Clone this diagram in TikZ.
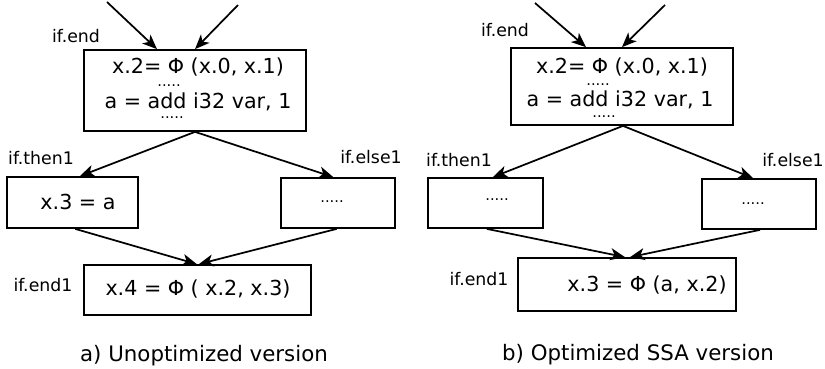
\documentclass[tikz,border=0pt]{standalone}
\usepackage{fontspec}
\setmainfont{DejaVu Sans}
\usetikzlibrary{arrows.meta}
\tikzset{
	box/.style={draw=black, line width=1.3pt, inner sep=0pt},
	code/.style={font=\fontsize{15.5}{18}\selectfont, inner sep=0pt},
	captxt/.style={font=\fontsize{16}{19}\selectfont, inner sep=0pt},
	lbl/.style={font=\fontsize{13}{15}\selectfont, inner sep=0pt},
	dots/.style={font=\fontsize{11}{12}\selectfont, inner sep=0pt},
	arr/.style={draw=black, line width=1.3pt, -{Stealth[length=11pt, width=9pt, inset=3pt]}}
}
\begin{document}
\begin{tikzpicture}[x=0.75pt, y=-0.75pt]
	\useasboundingbox (0,0) rectangle (825,368);
	% a) unoptimized
	\node[box, minimum width=166.5pt, minimum height=60.75pt] (topA) at (195,90.5) {};
	\node[box, minimum width=98.25pt, minimum height=38.25pt] (thenA) at (72.5,202.5) {};
	\node[box, minimum width=85.5pt, minimum height=37.5pt] (elseA) at (338,203) {};
	\node[box, minimum width=170.25pt, minimum height=37.5pt] (endA) at (197.5,290) {};
	\node[code] (phiA) at (198,67) {x.2= Φ (x.0, x.1)};
	\node[dots] (dotsA1) at (169,86) {.....};
	\node[code] (addA) at (198,102) {a = add i32 var, 1};
	\node[dots] (dotsA2) at (172,118) {.....};
	\node[code] (movA) at (78,202) {x.3 = a};
	\node[dots] (dotsA3) at (332,202) {.....};
	\node[code] (phiA2) at (198,289) {x.4 = Φ ( x.2, x.3)};
	\node[lbl] (lEndA) at (76,36) {if.end};
	\node[lbl] (lThenA) at (41,158) {if.then1};
	\node[lbl] (lElseA) at (371,157) {if.else1};
	\node[lbl] (lEnd1A) at (43,285) {if.end1};
	\node[captxt] (capA) at (204,356) {a) Unoptimized version};
	\coordinate (inA1) at (107,2);
	\coordinate (inA2) at (238,5);
	\draw[arr] (inA1) -- ([xshift=-28.5pt]topA.north);
	\draw[arr] (inA2) -- ([xshift=0pt]topA.north);
	\draw[arr] (topA.south) -- ([xshift=5.5pt]thenA.north);
	\draw[arr] (topA.south) -- ([xshift=-3.5pt]elseA.north);
	\draw[arr] ([xshift=2pt]thenA.south) -- ([xshift=-0.5pt]endA.north);
	\draw[arr] ([xshift=-1pt]elseA.south) -- ([xshift=1pt]endA.north);
	% b) optimized
	\node[box, minimum width=166.5pt, minimum height=57.75pt] (topB) at (622,86.5) {};
	\node[box, minimum width=86.25pt, minimum height=37.5pt] (thenB) at (485.5,203) {};
	\node[box, minimum width=85.5pt, minimum height=37.5pt] (elseB) at (759,204) {};
	\node[box, minimum width=163.5pt, minimum height=39.75pt] (endB) at (627,284.5) {};
	\node[code] (phiB) at (622,67) {x.2= Φ (x.0, x.1)};
	\node[dots] (dotsB1) at (598,85) {.....};
	\node[code] (addB) at (620,100) {a = add i32 var, 1};
	\node[dots] (dotsB2) at (604,117) {.....};
	\node[dots] (dotsB3) at (497,200) {.....};
	\node[dots] (dotsB4) at (753,204) {.....};
	\node[code] (phiB2) at (647,285) {x.3 = Φ (a, x.2)};
	\node[lbl] (lEndB) at (505,30) {if.end};
	\node[lbl] (lThenB) at (459,160) {if.then1};
	\node[lbl] (lElseB) at (793,160) {if.else1};
	\node[lbl] (lEnd1B) at (479,279) {if.end1};
	\node[captxt] (capB) at (638,355) {b) Optimized SSA version};
	\coordinate (inB1) at (535,3);
	\coordinate (inB2) at (665,5);
	\draw[arr] (inB1) -- ([xshift=-27pt]topB.north);
	\draw[arr] (inB2) -- ([xshift=0pt]topB.north);
	\draw[arr] ([xshift=0.75pt]topB.south) -- ([xshift=5.5pt]thenB.north);
	\draw[arr] ([xshift=0.75pt]topB.south) -- ([xshift=-4.5pt]elseB.north);
	\draw[arr] ([xshift=1pt]thenB.south) -- ([xshift=-1.5pt]endB.north);
	\draw[arr] ([xshift=0.75pt]elseB.south) -- ([xshift=2.25pt]endB.north);
\end{tikzpicture}
\end{document}
